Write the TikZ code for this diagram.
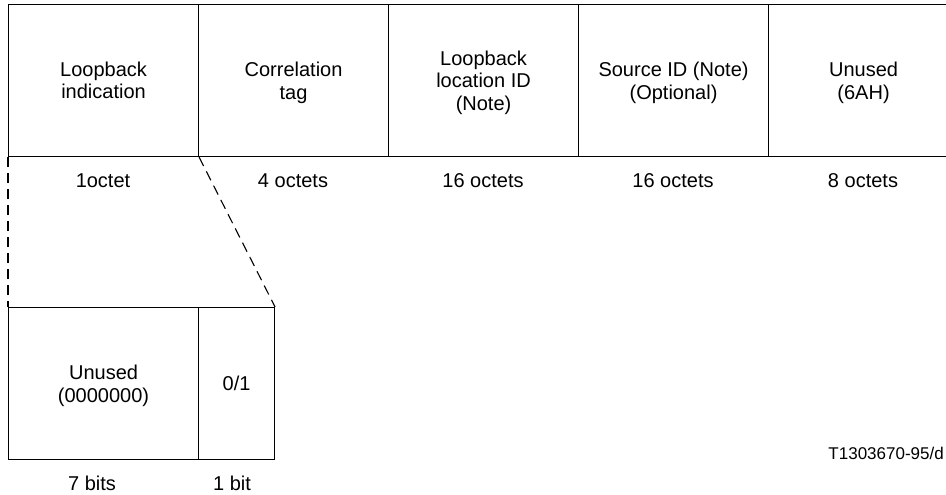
\documentclass[tikz,border=0pt]{standalone}
\usepackage{fontspec}
\setmainfont{Liberation Sans}
\begin{document}
\begin{tikzpicture}[x=1pt,y=-1pt,
  field/.style={draw, line width=1.1pt, minimum width=190pt, minimum height=152pt,
    inner sep=0pt, align=center, anchor=north west,
    font=\fontsize{20}{22.5}\selectfont},
  bitfield/.style={field, minimum height=152pt},
  sizelabel/.style={inner sep=0pt, font=\fontsize{20}{22.5}\selectfont},
  zoomline/.style={line width=1.1pt, dash pattern=on 10pt off 6pt}]
  % page area
  \clip (0,0) rectangle (946,495);
  \useasboundingbox (0,0) rectangle (946,495);

  % octet fields of the frame (last lines with descenders are smashed so the
  % text block is centred on the letters, not on the descending glyphs)
  \node[field] (f1) at (8,4)   {Loopback\\indication};
  \node[field] (f2) at (198,4) {Correlation\\\smash{tag}};
  \node[field] (f3) at (388,4) {Loopback\\location ID\\\smash{(Note)}};
  \node[field] (f4) at (578,4) {Source ID (Note)\\\smash{(Optional)}};
  \node[field] (f5) at (768,4) {Unused\\\smash{(6AH)}};

  % field lengths
  \node[sizelabel] (l1) at (103,181) {1octet};
  \node[sizelabel] (l2) at (293,181) {4 octets};
  \node[sizelabel] (l3) at (483,181) {16 octets};
  \node[sizelabel] (l4) at (673,181) {16 octets};
  \node[sizelabel] (l5) at (863,181) {8 octets};

  % expansion of the first octet
  \node[bitfield] (b7) at (8,307) {Unused\\\smash{(0000000)}};
  \node[bitfield, minimum width=76pt] (b1) at (198,307) {0/1};

  \node[sizelabel] (m7) at (92,483)  {7 bits};
  \node[sizelabel] (m1) at (232,483) {1 bit};

  \draw[zoomline] (f1.south west) -- (b7.north west);
  \draw[zoomline] (f1.south east) -- (b1.north east);

  \node[inner sep=0pt, anchor=east, font=\fontsize{17}{20}\selectfont] (ref) at (944,453) {T1303670-95/d};
\end{tikzpicture}
\end{document}
